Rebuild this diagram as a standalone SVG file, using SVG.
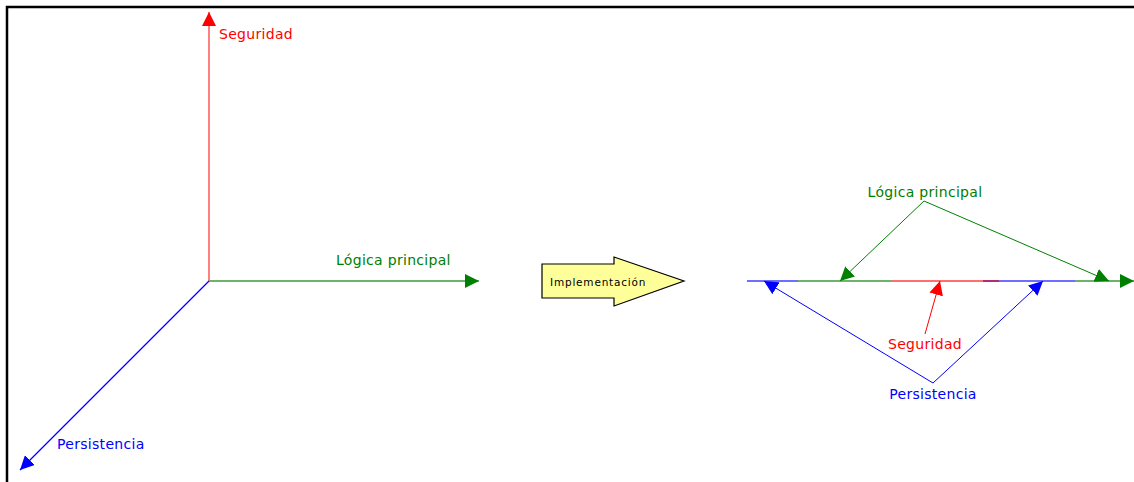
<svg xmlns="http://www.w3.org/2000/svg" width="1134" height="482" viewBox="0 0 1134 482">
  <style>
    .lbl { font-family: Verdana, "DejaVu Sans", sans-serif; font-size: 14px; letter-spacing: 0.3px; }
    .red { fill: #ff0000; }
    .green { fill: #008000; }
    .blue { fill: #0000ff; }
  </style>
  <defs>
    <marker id="ahRed" viewBox="0 0 10 10" refX="10" refY="5" markerWidth="14" markerHeight="14" markerUnits="userSpaceOnUse" orient="auto">
      <path d="M0,0 L10,5 L0,10 Z" fill="#ff0000"/>
    </marker>
    <marker id="ahGreen" viewBox="0 0 10 10" refX="10" refY="5" markerWidth="14" markerHeight="14" markerUnits="userSpaceOnUse" orient="auto">
      <path d="M0,0 L10,5 L0,10 Z" fill="#008000"/>
    </marker>
    <marker id="ahBlue" viewBox="0 0 10 10" refX="10" refY="5" markerWidth="14" markerHeight="14" markerUnits="userSpaceOnUse" orient="auto">
      <path d="M0,0 L10,5 L0,10 Z" fill="#0000ff"/>
    </marker>
  </defs>
  <rect width="1134" height="482" fill="#ffffff"/>
  <!-- frame -->
  <path d="M7,482 L7,7 L1134,7" fill="none" stroke="#000" stroke-width="2.5"/>

  <g id="connectors">
    <!-- left axes -->
    <line x1="209" y1="281" x2="209" y2="12" stroke="#ff0000" stroke-width="1" marker-end="url(#ahRed)"/>
    <line x1="209" y1="281" x2="479" y2="281" stroke="#6db36d" stroke-width="2" marker-end="url(#ahGreen)"/>
    <line x1="209" y1="281" x2="20" y2="470" stroke="#0000ff" stroke-width="1.3" marker-end="url(#ahBlue)"/>

    <!-- combined axis -->
    <line x1="747" y1="281" x2="798" y2="281" stroke="#6f6fff" stroke-width="2"/>
    <line x1="798" y1="281" x2="891" y2="281" stroke="#6db36d" stroke-width="2"/>
    <line x1="891" y1="281" x2="983" y2="281" stroke="#ff6f6f" stroke-width="2"/>
    <line x1="983" y1="281" x2="999" y2="281" stroke="#b0306f" stroke-width="2"/>
    <line x1="999" y1="281" x2="1075" y2="281" stroke="#6f6fff" stroke-width="2"/>
    <line x1="1075" y1="281" x2="1134" y2="281" stroke="#6db36d" stroke-width="2" marker-end="url(#ahGreen)"/>

    <!-- callouts -->
    <line x1="924" y1="201" x2="840" y2="281" stroke="#008000" stroke-width="1" marker-end="url(#ahGreen)"/>
    <line x1="924" y1="201" x2="1109" y2="281" stroke="#008000" stroke-width="1" marker-end="url(#ahGreen)"/>
    <line x1="925" y1="334" x2="940" y2="281" stroke="#ff0000" stroke-width="1" marker-end="url(#ahRed)"/>
    <line x1="933" y1="383" x2="764" y2="281" stroke="#0000ff" stroke-width="1" marker-end="url(#ahBlue)"/>
    <line x1="933" y1="383" x2="1043" y2="281" stroke="#0000ff" stroke-width="1" marker-end="url(#ahBlue)"/>
  </g>

  <g id="seguridad-axis">
    <text class="lbl red" x="219" y="39">Seguridad</text>
  </g>
  <g id="logica-axis">
    <text class="lbl green" x="336" y="265">Lógica principal</text>
  </g>
  <g id="persistencia-axis">
    <text class="lbl blue" x="57" y="449">Persistencia</text>
  </g>

  <g id="implementacion">
    <path d="M542,264 L614,264 L614,257 L684,281 L614,306 L614,298 L542,298 Z" fill="#ffff99" stroke="#000" stroke-width="1.2"/>
    <text x="550" y="286" font-family="Verdana, 'DejaVu Sans', sans-serif" font-size="10.5" letter-spacing="0.8" fill="#000">Implementación</text>
  </g>

  <g id="logica-label">
    <text class="lbl green" x="925" y="197" text-anchor="middle">Lógica principal</text>
  </g>
  <g id="seguridad-label">
    <text class="lbl red" x="925" y="349" text-anchor="middle">Seguridad</text>
  </g>
  <g id="persistencia-label">
    <text class="lbl blue" x="933" y="399" text-anchor="middle">Persistencia</text>
  </g>
</svg>
